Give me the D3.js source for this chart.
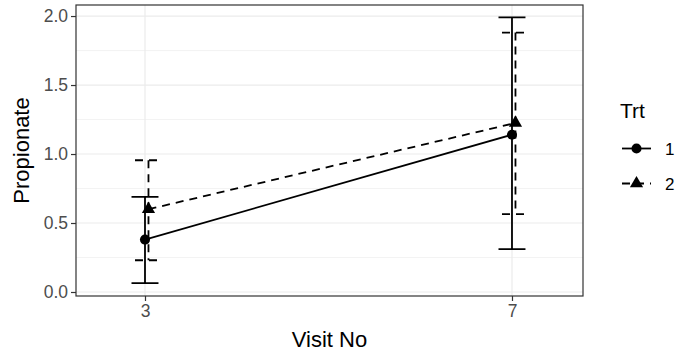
<!DOCTYPE html>
<meta charset="utf-8">
<style>
    body { margin: 0; background: #fff; }
    svg { font-family: "Liberation Sans", Arial, sans-serif; }
</style>
<body>
<script src="https://d3js.org/d3.v7.min.js"></script>
<script>

    // data
    var visits = [3, 7];
    var groups = ["1", "2"];
    var means = [[0.38, 1.14], [0.60, 1.225]];
    var lower = [[0.065, 0.31], [0.23, 0.565]];
    var upper = [[0.69, 1.99], [0.955, 1.88]];
    var yTicks = [0, 0.5, 1, 1.5, 2];
    var yMinor = [0.25, 0.75, 1.25, 1.75];

    var width = 696,
        height = 360;

    var svg = d3.select("body").append("svg")
        .attr("width", width)
        .attr("height", height);

    var panel = {left: 76, right: 583, top: 5, bottom: 296};

    var x = d3.scaleLinear().domain([2.248, 7.774]).range([panel.left, panel.right]);
    var y = d3.scaleLinear().domain([-0.029, 2.08]).range([panel.bottom, panel.top]);

    var dodge = [0, 0.038];
    var capW = 0.147;
    var dash = ["none", "8,6"];
    var shapes = [d3.symbolCircle, d3.symbolTriangle];

    // grid
    var grid = svg.append("g");
    grid.selectAll(".minor").data(yMinor).enter().append("line")
        .attr("x1", panel.left).attr("x2", panel.right)
        .attr("y1", d => y(d)).attr("y2", d => y(d))
        .attr("stroke", "#ebebeb").attr("stroke-width", 0.6);
    grid.selectAll(".major").data(yTicks).enter().append("line")
        .attr("x1", panel.left).attr("x2", panel.right)
        .attr("y1", d => y(d)).attr("y2", d => y(d))
        .attr("stroke", "#ebebeb").attr("stroke-width", 1.2);
    grid.selectAll(".xmajor").data(visits).enter().append("line")
        .attr("y1", panel.top).attr("y2", panel.bottom)
        .attr("x1", d => x(d)).attr("x2", d => x(d))
        .attr("stroke", "#ebebeb").attr("stroke-width", 1.2);

    // error bars
    groups.forEach(function(g, i) {
        var eg = svg.append("g")
            .attr("stroke", "#000")
            .attr("stroke-width", 1.8)
            .attr("stroke-dasharray", dash[i])
            .attr("fill", "none");
        visits.forEach(function(v, j) {
            var cx = v + dodge[i];
            var p = d3.path();
            p.moveTo(x(cx - capW), y(upper[i][j]));
            p.lineTo(x(cx + capW), y(upper[i][j]));
            p.moveTo(x(cx), y(upper[i][j]));
            p.lineTo(x(cx), y(lower[i][j]));
            p.moveTo(x(cx - capW), y(lower[i][j]));
            p.lineTo(x(cx + capW), y(lower[i][j]));
            eg.append("path").attr("d", p.toString());
        });
    });

    // lines and points
    var line = d3.line();
    groups.forEach(function(g, i) {
        var pts = visits.map((v, j) => [x(v + dodge[i]), y(means[i][j])]);
        svg.append("path")
            .attr("d", line(pts))
            .attr("fill", "none")
            .attr("stroke", "#000")
            .attr("stroke-width", 1.8)
            .attr("stroke-dasharray", dash[i]);
        svg.selectAll(".pt" + i).data(pts).enter().append("path")
            .attr("transform", d => "translate(" + d[0] + "," + d[1] + ")")
            .attr("d", d3.symbol().type(shapes[i]).size(i == 0 ? 80 : 75))
            .attr("fill", "#000");
    });

    // panel border
    svg.append("rect")
        .attr("x", panel.left).attr("y", panel.top)
        .attr("width", panel.right - panel.left)
        .attr("height", panel.bottom - panel.top)
        .attr("fill", "none").attr("stroke", "#333").attr("stroke-width", 1.2);

    // axes
    var yAxis = svg.append("g")
        .attr("transform", "translate(" + panel.left + ",0)")
        .call(d3.axisLeft(y).tickValues(yTicks).tickFormat(d3.format(".1f")).tickSize(5).tickPadding(3));
    var xAxis = svg.append("g")
        .attr("transform", "translate(0," + panel.bottom + ")")
        .call(d3.axisBottom(x).tickValues(visits).tickFormat(d3.format("d")).tickSize(5).tickPadding(4));
    [xAxis, yAxis].forEach(function(a) {
        a.select(".domain").remove();
        a.selectAll(".tick line").attr("stroke", "#333").attr("stroke-width", 1.2);
        a.selectAll(".tick text").attr("fill", "#4d4d4d").style("font-size", "17.5px")
            .style("font-family", "'Liberation Sans', Arial, sans-serif");
    });

    svg.append("text")
        .attr("x", (panel.left + panel.right) / 2).attr("y", 347)
        .attr("text-anchor", "middle")
        .style("font-size", "22px")
        .text("Visit No");

    svg.append("text")
        .attr("transform", "translate(29," + (panel.top + panel.bottom) / 2 + ") rotate(-90)")
        .attr("text-anchor", "middle")
        .style("font-size", "22px")
        .text("Propionate");

    // legend
    var legend = svg.append("g");
    legend.append("text")
        .attr("x", 620).attr("y", 118)
        .style("font-size", "21px")
        .text("Trt");
    groups.forEach(function(g, i) {
        var ky = 148.5 + i * 35;
        legend.append("line")
            .attr("x1", 622).attr("x2", 651)
            .attr("y1", ky).attr("y2", ky)
            .attr("stroke", "#000").attr("stroke-width", 1.8)
            .attr("stroke-dasharray", dash[i]);
        legend.append("path")
            .attr("transform", "translate(636.5," + ky + ")")
            .attr("d", d3.symbol().type(shapes[i]).size(i == 0 ? 80 : 75))
            .attr("fill", "#000");
        legend.append("text")
            .attr("x", 665).attr("y", ky + 6.5)
            .style("font-size", "17px")
            .text(g);
    });
</script>
</body>
